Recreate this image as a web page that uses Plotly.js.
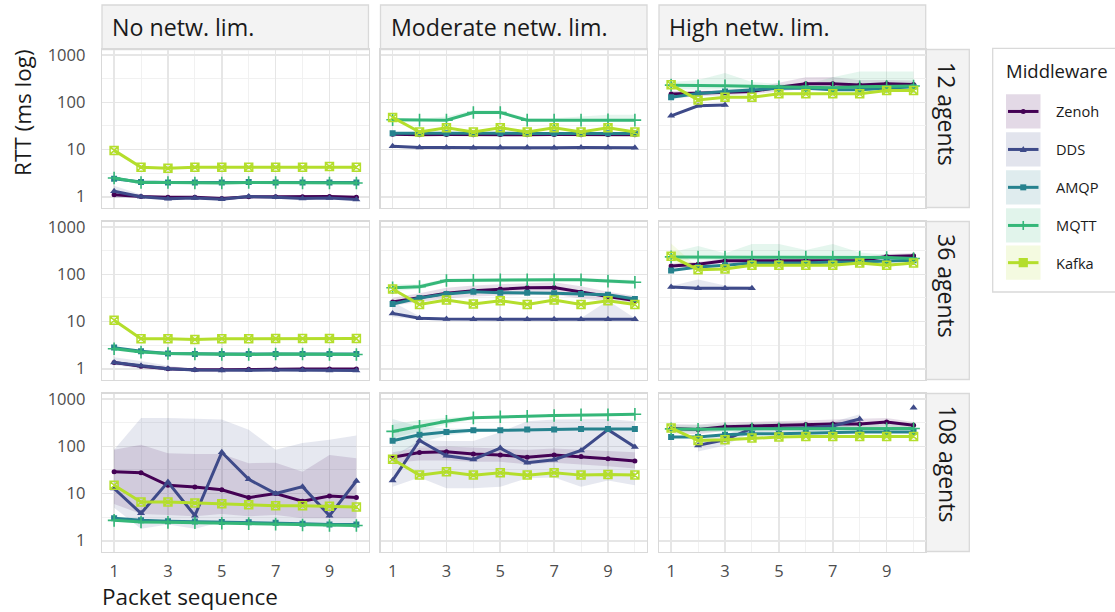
<!DOCTYPE html>
<html><head><meta charset="utf-8">
<script src="https://cdn.plot.ly/plotly-3.0.1.min.js"></script>
<style>html,body{margin:0;padding:0;background:#fff;}#chart{width:1115px;height:612px;}</style>
</head><body><div id="chart"></div>
<script>
// ---------------- DATA ----------------
const seq = [1,2,3,4,5,6,7,8,9,10];
const middlewares = ['Zenoh','DDS','AMQP','MQTT','Kafka'];
const limitLabels = ['No netw. lim.','Moderate netw. lim.','High netw. lim.'];
const agentLabels = ['12 agents','36 agents','108 agents'];
const xTicks = [1,3,5,7,9];
const xMinor = [2,4,6,8,10];
const yTicks = [1,10,100,1000];
const yTickLabels = ['1','10','100','1000'];
const yMinor = [3.1623,31.623,316.23];

// No network limitation, 12 agents
const none12_zenoh = [1.1,1.01,0.97,0.97,0.92,1.0,1.0,1.0,1.01,0.97];
const none12_dds   = [1.3,1.0,0.91,0.94,0.88,1.01,0.97,0.92,0.94,0.87];
const none12_amqp  = [2.4,2.05,2.0,2.0,2.0,2.05,2.0,2.0,2.0,2.0];
const none12_mqtt  = [2.5,2.0,2.0,1.95,1.95,2.0,2.0,1.95,1.95,1.95];
const none12_kafka = [9.6,4.2,4.0,4.2,4.2,4.2,4.2,4.2,4.35,4.2];
const none12_dds_lo = [0.95,0.93,0.87,0.9,0.85,0.97,0.93,0.88,0.9,0.83];
const none12_dds_hi = [1.7,1.12,0.96,0.98,0.92,1.05,1.01,0.96,0.98,0.91];

// Moderate network limitation, 12 agents
const mod12_zenoh = [21,20.5,20.8,20.6,20.8,20.7,20.8,20.6,20.8,20.7];
const mod12_dds   = [11.7,11.0,11.0,10.9,11.0,11.0,10.9,11.0,11.0,10.9];
const mod12_amqp  = [22.2,22.0,22.1,22.0,22.1,22.0,22.1,22.0,22.1,22.0];
const mod12_mqtt  = [43,42,42,61,61,42,42,42,43,42];
const mod12_kafka = [48,23.5,29,23.5,29,23.5,29,23.5,29,23.5];
const mod12_mqtt_lo = [40,40,40,56,56,40,40,40,40,40];
const mod12_mqtt_hi = [47,45,50,68,68,46,46,50,55,55];

// High network limitation, 12 agents
const high12_zenoh = [150,155,160,170,210,250,250,235,250,240];
const high12_dds   = [52,85,88,null,null,null,null,null,null,null];
const high12_amqp  = [128,155,170,185,200,200,185,185,200,215];
const high12_mqtt  = [232,225,225,220,215,210,205,215,220,222];
const high12_kafka = [236,113,128,128,152,152,152,152,178,178];
const high12_zenoh_lo = [120,135,140,150,170,195,195,185,200,200];
const high12_zenoh_hi = [175,175,185,200,260,340,345,300,300,290];
const high12_mqtt_lo = [195,185,190,190,190,185,180,185,190,195];
const high12_mqtt_hi = [270,300,420,270,250,240,340,455,455,455];

// No network limitation, 36 agents
const none36_zenoh = [1.35,1.13,1.0,0.95,0.95,0.97,0.98,0.98,0.98,0.98];
const none36_dds   = [1.35,1.15,1.0,0.94,0.92,0.93,0.94,0.94,0.92,0.92];
const none36_amqp  = [2.8,2.35,2.1,2.05,2.05,2.05,2.05,2.05,2.05,2.05];
const none36_mqtt  = [2.65,2.25,2.1,2.05,2.0,2.0,2.05,2.05,2.0,2.0];
const none36_kafka = [10.7,4.3,4.3,4.15,4.3,4.3,4.35,4.35,4.35,4.35];
const none36_dds_lo = [1.2,1.0,0.9,0.9,0.88,0.9,0.9,0.9,0.88,0.88];
const none36_dds_hi = [1.75,1.45,1.15,1.0,0.97,0.97,0.98,0.98,0.97,0.97];

// Moderate network limitation, 36 agents
const mod36_zenoh = [26,32,40,45,49,52,53,42,34,28];
const mod36_dds   = [14.9,11.8,11.3,11.2,11.2,11.2,11.2,11.2,11.2,11.2];
const mod36_amqp  = [23.6,31.7,38.6,43,41,41,40,38.6,37,30];
const mod36_mqtt  = [52,55,74,75,77,77,77,77,72,68];
const mod36_kafka = [49,23,28.7,23.6,27.7,23,28.7,23,27.7,23];
const mod36_zenoh_lo = [22,26,31,34,36,37,37,31,27,23];
const mod36_zenoh_hi = [32,40,52,58,62,66,68,56,43,35];
const mod36_dds_lo = [12.5,11,10.8,10.8,10.8,10.8,10.8,10.8,10.8,10.8];
const mod36_dds_hi = [26,13,11.8,11.8,11.8,11.8,12,11.8,28,11.8];
const mod36_mqtt_lo = [44,49,68,70,72,72,72,72,66,62];
const mod36_mqtt_hi = [62,62,81,82,84,84,84,84,80,76];

// High network limitation, 36 agents
const high36_zenoh = [150,165,195,195,195,195,195,195,240,250];
const high36_dds   = [54,51,51,51,null,null,null,null,null,null];
const high36_amqp  = [121,143,156,174,174,174,183,183,192,199];
const high36_mqtt  = [235,232,232,232,232,232,232,232,228,218];
const high36_kafka = [242,126,130,156,156,156,156,174,156,174];
const high36_zenoh_lo = [135,148,175,178,178,178,178,178,210,220];
const high36_zenoh_hi = [170,185,215,215,215,215,220,230,270,285];
const high36_dds_lo = [50,47,48,48,null,null,null,null,null,null];
const high36_dds_hi = [57,78,58,55,null,null,null,null,null,null];
const high36_mqtt_lo = [200,200,205,205,205,205,205,205,200,195];
const high36_mqtt_hi = [290,400,280,440,440,330,440,290,260,245];
const high36_kafka_lo = [190,118,122,145,146,146,146,163,146,163];
const high36_kafka_hi = [450,140,140,168,168,168,168,186,168,186];

// No network limitation, 108 agents
const none108_zenoh = [29,27.6,15,13.8,12,8.2,10,6.9,8.9,8.2];
const none108_dds   = [12.8,3.8,17.5,3.4,75,20,10,14,3.4,18.5];
const none108_amqp  = [3.0,2.7,2.6,2.55,2.5,2.45,2.4,2.3,2.2,2.2];
const none108_mqtt  = [2.7,2.5,2.45,2.4,2.35,2.3,2.25,2.15,2.1,2.1];
const none108_kafka = [15,6.6,6.6,6.3,6.1,5.8,5.5,5.5,5.35,5.2];
const none108_zenoh_lo = [6,3.7,3.5,3.3,3.7,3.3,3.5,3.0,3.0,3.0];
const none108_zenoh_hi = [85,108,72,69,69,44,45,29,66,56];
const none108_dds_lo = [5,1.8,2.2,1.8,2.5,2.5,2.5,2.3,2.0,2.0];
const none108_dds_hi = [85,400,400,380,370,225,85,118,138,170];

// Moderate network limitation, 108 agents
const mod108_zenoh = [59,74,77,69,66,59,66,61,55,49];
const mod108_dds   = [19,134,63,53,92,45,52,82,227,97];
const mod108_amqp  = [132,177,202,219,219,227,227,235,235,235];
const mod108_mqtt  = [208,267,341,403,424,437,452,468,468,482];
const mod108_kafka = [53.5,24.6,29,24.6,27.6,24.6,27.6,24.6,25.5,24.6];
const mod108_zenoh_lo = [45,50,50,47,47,42,45,42,38,34];
const mod108_zenoh_hi = [75,95,100,95,90,85,90,85,80,75];
const mod108_dds_lo = [14,22,13,13,14,21,22,14,19,15];
const mod108_dds_hi = [60,135,130,130,200,340,370,380,380,340];
const mod108_amqp_lo = [60,120,170,200,210,220,220,225,225,225];
const mod108_amqp_hi = [380,260,240,235,235,235,240,245,245,245];
const mod108_mqtt_lo = [150,210,290,370,410,425,440,455,455,470];
const mod108_mqtt_hi = [300,360,400,440,440,450,465,480,480,495];

// High network limitation, 108 agents
const high108_zenoh = [240,228,260,270,275,290,300,300,330,280];
const high108_dds   = [null,105,138,240,240,250,270,380,null,660];
const high108_amqp  = [158,158,177,186,186,193,199,202,202,202];
const high108_mqtt  = [235,230,235,235,235,235,235,235,235,240];
const high108_kafka = [245,134,138,150,158,163,163,163,163,163];
const high108_zenoh_lo = [190,180,215,225,230,240,250,250,265,235];
const high108_zenoh_hi = [300,290,320,330,335,355,370,380,400,330];
const high108_dds_lo = [null,78,105,200,200,205,220,300,null,null];
const high108_dds_hi = [null,140,175,290,290,300,330,480,null,null];
const high108_mqtt_lo = [205,200,205,205,205,205,205,205,205,210];
const high108_mqtt_hi = [280,280,290,310,320,300,300,300,320,300];

// ---------------- ASSEMBLY ----------------
const panelSeries = [
  [ {Zenoh:none12_zenoh,DDS:none12_dds,AMQP:none12_amqp,MQTT:none12_mqtt,Kafka:none12_kafka},
    {Zenoh:mod12_zenoh,DDS:mod12_dds,AMQP:mod12_amqp,MQTT:mod12_mqtt,Kafka:mod12_kafka},
    {Zenoh:high12_zenoh,DDS:high12_dds,AMQP:high12_amqp,MQTT:high12_mqtt,Kafka:high12_kafka} ],
  [ {Zenoh:none36_zenoh,DDS:none36_dds,AMQP:none36_amqp,MQTT:none36_mqtt,Kafka:none36_kafka},
    {Zenoh:mod36_zenoh,DDS:mod36_dds,AMQP:mod36_amqp,MQTT:mod36_mqtt,Kafka:mod36_kafka},
    {Zenoh:high36_zenoh,DDS:high36_dds,AMQP:high36_amqp,MQTT:high36_mqtt,Kafka:high36_kafka} ],
  [ {Zenoh:none108_zenoh,DDS:none108_dds,AMQP:none108_amqp,MQTT:none108_mqtt,Kafka:none108_kafka},
    {Zenoh:mod108_zenoh,DDS:mod108_dds,AMQP:mod108_amqp,MQTT:mod108_mqtt,Kafka:mod108_kafka},
    {Zenoh:high108_zenoh,DDS:high108_dds,AMQP:high108_amqp,MQTT:high108_mqtt,Kafka:high108_kafka} ]
];
const panelRibbons = [
  [ {DDS:[none12_dds_lo,none12_dds_hi]},
    {MQTT:[mod12_mqtt_lo,mod12_mqtt_hi]},
    {Zenoh:[high12_zenoh_lo,high12_zenoh_hi],MQTT:[high12_mqtt_lo,high12_mqtt_hi]} ],
  [ {DDS:[none36_dds_lo,none36_dds_hi]},
    {Zenoh:[mod36_zenoh_lo,mod36_zenoh_hi],DDS:[mod36_dds_lo,mod36_dds_hi],MQTT:[mod36_mqtt_lo,mod36_mqtt_hi]},
    {Zenoh:[high36_zenoh_lo,high36_zenoh_hi],DDS:[high36_dds_lo,high36_dds_hi],MQTT:[high36_mqtt_lo,high36_mqtt_hi],Kafka:[high36_kafka_lo,high36_kafka_hi]} ],
  [ {Zenoh:[none108_zenoh_lo,none108_zenoh_hi],DDS:[none108_dds_lo,none108_dds_hi]},
    {Zenoh:[mod108_zenoh_lo,mod108_zenoh_hi],DDS:[mod108_dds_lo,mod108_dds_hi],AMQP:[mod108_amqp_lo,mod108_amqp_hi],MQTT:[mod108_mqtt_lo,mod108_mqtt_hi]},
    {Zenoh:[high108_zenoh_lo,high108_zenoh_hi],DDS:[high108_dds_lo,high108_dds_hi],MQTT:[high108_mqtt_lo,high108_mqtt_hi]} ]
];

// ---------------- STYLE ----------------
const W = 1115, H = 612;
const FONT = '"Open Sans", "DejaVu Sans", sans-serif';
const colors = {Zenoh:'#440154',DDS:'#3E4A89',AMQP:'#26828E',MQTT:'#35B779',Kafka:'#B4DE2C'};
const rgb = {Zenoh:[68,1,84],DDS:[62,74,137],AMQP:[38,130,142],MQTT:[53,183,121],Kafka:[180,222,44]};
const ribbonAlpha = 0.13;
const markers = {
  Zenoh:{symbol:'circle',size:5,line:{width:0}},
  DDS:{symbol:'triangle-up',size:7,line:{width:0}},
  AMQP:{symbol:'square',size:6,line:{width:0}},
  MQTT:{symbol:'cross-thin-open',size:9,line:{width:1.6}},
  Kafka:{symbol:'square-x-open',size:8,line:{width:1.5}}
};
const colPx = [[102,368.5],[380.5,647],[659,925.7]];
const rowPx = [[49.5,207.5],[221.5,379.5],[393.5,551.5]];
const px2x = p => p / W;
const py2y = p => 1 - p / H;
const gridMajor = '#E6E6E6', gridMinor = '#EFEFEF', borderCol = '#D9D9D9';

const traces = [];
const layout = {
  width: W, height: H, autosize: false,
  margin: {l:0, r:0, t:0, b:0},
  paper_bgcolor: '#fff', plot_bgcolor: '#fff',
  showlegend: false,
  font: {family: FONT, color: '#1A1A1A'},
  shapes: [], annotations: []
};

for (let r = 0; r < 3; r++) {
  for (let c = 0; c < 3; c++) {
    const n = r * 3 + c + 1;
    const s = n === 1 ? '' : String(n);
    const xa = 'x' + s, ya = 'y' + s;
    layout['xaxis' + s] = {
      domain: [px2x(colPx[c][0]), px2x(colPx[c][1])], anchor: ya,
      range: [0.55, 10.45], tickmode: 'array', tickvals: xTicks, ticktext: xTicks.map(String),
      showticklabels: r === 2, ticks: '', ticklabelstandoff: 4,
      tickfont: {family: FONT, size: 16.5, color: '#4D4D4D'},
      showgrid: true, gridcolor: gridMajor, gridwidth: 1.6,
      minor: {tickmode: 'array', tickvals: xMinor, showgrid: true, gridcolor: gridMinor, gridwidth: 0.9, ticks: ''},
      zeroline: false, showline: true, mirror: true, linecolor: borderCol, linewidth: 1.3, fixedrange: true
    };
    layout['yaxis' + s] = {
      domain: [py2y(rowPx[r][1]), py2y(rowPx[r][0])], anchor: xa,
      type: 'log', range: [-0.229, 3.122], tickmode: 'array', tickvals: yTicks, ticktext: yTickLabels,
      showticklabels: c === 0, ticks: '', ticklabelstandoff: 12,
      tickfont: {family: FONT, size: 16.5, color: '#4D4D4D'},
      showgrid: true, gridcolor: gridMajor, gridwidth: 1.6,
      minor: {tickmode: 'array', tickvals: yMinor, showgrid: true, gridcolor: gridMinor, gridwidth: 0.9, ticks: ''},
      zeroline: false, showline: true, mirror: true, linecolor: borderCol, linewidth: 1.3, fixedrange: true
    };
    const rib = panelRibbons[r][c];
    middlewares.forEach(mw => {
      if (!rib[mw]) return;
      const [lo, hi] = rib[mw];
      const [R, G, B] = rgb[mw];
      traces.push({x: seq, y: lo, xaxis: xa, yaxis: ya, mode: 'lines', line: {width: 0, color: colors[mw]}, hoverinfo: 'skip', showlegend: false});
      traces.push({x: seq, y: hi, xaxis: xa, yaxis: ya, mode: 'lines', line: {width: 0, color: colors[mw]}, fill: 'tonexty', fillcolor: `rgba(${R},${G},${B},${ribbonAlpha})`, hoverinfo: 'skip', showlegend: false});
    });
    middlewares.forEach(mw => {
      const m = markers[mw];
      traces.push({
        x: seq, y: panelSeries[r][c][mw], xaxis: xa, yaxis: ya, name: mw,
        mode: 'lines+markers', line: {color: colors[mw], width: 3},
        marker: {symbol: m.symbol, size: m.size, color: colors[mw], line: {color: colors[mw], width: m.line.width}},
        showlegend: false
      });
    });
  }
}

// strips
const stripFill = '#F3F3F3';
for (let c = 0; c < 3; c++) {
  layout.shapes.push({type: 'rect', xref: 'paper', yref: 'paper', x0: px2x(colPx[c][0]), x1: px2x(colPx[c][1]), y0: py2y(5), y1: py2y(rowPx[0][0]), fillcolor: stripFill, line: {color: borderCol, width: 1.3}, layer: 'below'});
  layout.annotations.push({xref: 'paper', yref: 'paper', x: px2x(colPx[c][0] + 8), y: py2y(27), xanchor: 'left', yanchor: 'middle', text: limitLabels[c], showarrow: false, font: {family: FONT, size: 23.2, color: '#1A1A1A'}});
}
for (let r = 0; r < 3; r++) {
  layout.shapes.push({type: 'rect', xref: 'paper', yref: 'paper', x0: px2x(925.7), x1: px2x(969.3), y0: py2y(rowPx[r][1]), y1: py2y(rowPx[r][0]), fillcolor: stripFill, line: {color: borderCol, width: 1.3}, layer: 'below'});
  layout.annotations.push({xref: 'paper', yref: 'paper', x: px2x(947.5), y: py2y(rowPx[r][0] + 10), xanchor: 'center', yanchor: 'top', textangle: 90, text: agentLabels[r], showarrow: false, font: {family: FONT, size: 23, color: '#1A1A1A'}});
}

// axis titles
layout.annotations.push({xref: 'paper', yref: 'paper', x: px2x(100), y: py2y(596), xanchor: 'left', yanchor: 'middle', text: 'Packet sequence', showarrow: false, font: {family: FONT, size: 22.5, color: '#1A1A1A'}});
layout.annotations.push({xref: 'paper', yref: 'paper', x: px2x(22), y: py2y(113), xanchor: 'center', yanchor: 'middle', textangle: -90, text: 'RTT (ms log)', showarrow: false, font: {family: FONT, size: 22.5, color: '#1A1A1A'}});

// legend (manual)
layout.shapes.push({type: 'rect', xref: 'paper', yref: 'paper', x0: px2x(992.7), x1: px2x(1116), y0: py2y(292), y1: py2y(48.3), fillcolor: '#fff', line: {color: borderCol, width: 1.3}});
layout.annotations.push({xref: 'paper', yref: 'paper', x: px2x(1004), y: py2y(70.5), xanchor: 'left', yanchor: 'middle', text: 'Middleware', showarrow: false, font: {family: FONT, size: 18.5, color: '#1A1A1A'}});
const keyTop = [94.3, 132.3, 170.2, 208.3, 245.5];
const keyH = 34.3, kx0 = 1006, kx1 = 1040.5;
middlewares.forEach((mw, i) => {
  const [R, G, B] = rgb[mw];
  const y0 = keyTop[i], yc = y0 + keyH / 2, xc = (kx0 + kx1) / 2;
  const col = colors[mw];
  layout.shapes.push({type: 'rect', xref: 'paper', yref: 'paper', x0: px2x(kx0), x1: px2x(kx1), y0: py2y(y0 + keyH), y1: py2y(y0), fillcolor: `rgba(${R},${G},${B},0.15)`, line: {width: 0}});
  layout.shapes.push({type: 'line', xref: 'paper', yref: 'paper', x0: px2x(kx0 + 2), x1: px2x(kx1 - 2), y0: py2y(yc), y1: py2y(yc), line: {color: col, width: 3}});
  if (mw === 'Zenoh') {
    layout.shapes.push({type: 'circle', xref: 'paper', yref: 'paper', x0: px2x(xc - 2.5), x1: px2x(xc + 2.5), y0: py2y(yc + 2.5), y1: py2y(yc - 2.5), fillcolor: col, line: {width: 0}});
  } else if (mw === 'DDS') {
    layout.shapes.push({type: 'path', xref: 'paper', yref: 'paper', path: `M ${px2x(xc - 3.5)} ${py2y(yc + 2.5)} L ${px2x(xc + 3.5)} ${py2y(yc + 2.5)} L ${px2x(xc)} ${py2y(yc - 3.5)} Z`, fillcolor: col, line: {width: 0}});
  } else if (mw === 'AMQP') {
    layout.shapes.push({type: 'rect', xref: 'paper', yref: 'paper', x0: px2x(xc - 3), x1: px2x(xc + 3), y0: py2y(yc + 3), y1: py2y(yc - 3), fillcolor: col, line: {width: 0}});
  } else if (mw === 'MQTT') {
    layout.shapes.push({type: 'line', xref: 'paper', yref: 'paper', x0: px2x(xc), x1: px2x(xc), y0: py2y(yc - 4.5), y1: py2y(yc + 4.5), line: {color: col, width: 1.6}});
  } else {
    layout.shapes.push({type: 'rect', xref: 'paper', yref: 'paper', x0: px2x(xc - 4), x1: px2x(xc + 4), y0: py2y(yc + 4), y1: py2y(yc - 4), fillcolor: col, line: {color: col, width: 1.2}});
  }
  layout.annotations.push({xref: 'paper', yref: 'paper', x: px2x(1054), y: py2y(yc), xanchor: 'left', yanchor: 'middle', text: mw, showarrow: false, font: {family: FONT, size: 14.6, color: '#1A1A1A'}});
});

Plotly.newPlot('chart', traces, layout, {staticPlot: true, displayModeBar: false});
</script>
</body></html>
